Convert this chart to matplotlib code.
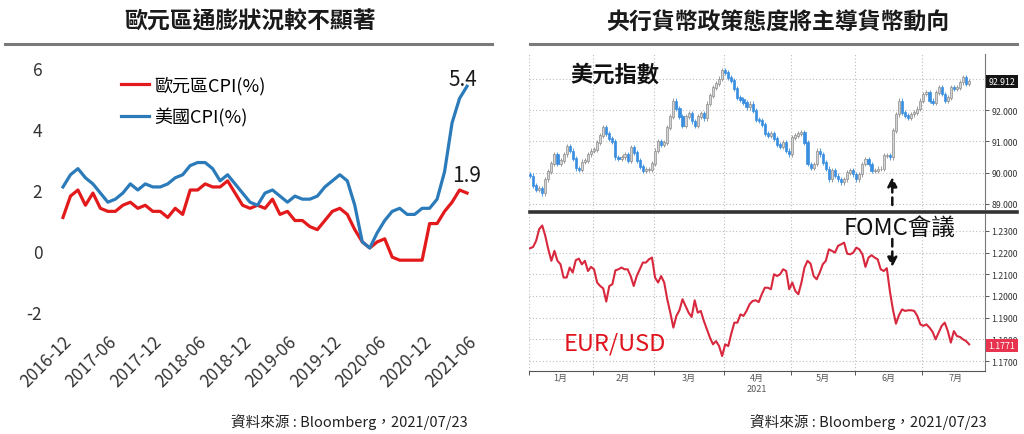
import numpy as np
import pandas as pd
import matplotlib
matplotlib.use("Agg")
import matplotlib.pyplot as plt
from matplotlib.lines import Line2D
from matplotlib import transforms

plt.rcParams['font.family'] = ['Noto Sans CJK TC', 'DejaVu Sans']
plt.rcParams['axes.unicode_minus'] = False

# ---- left panel: CPI YoY (%) , monthly 2016-12 .. 2021-06 ----
cpi_months = pd.period_range('2016-12', '2021-06', freq='M')
ez_cpi = [1.1,
          1.8, 2.0, 1.5, 1.9, 1.4, 1.3, 1.3, 1.5, 1.6, 1.4, 1.5, 1.3,
          1.3, 1.1, 1.4, 1.2, 2.0, 2.0, 2.2, 2.1, 2.1, 2.3, 1.9, 1.5,
          1.4, 1.5, 1.4, 1.7, 1.2, 1.3, 1.0, 1.0, 0.8, 0.7, 1.0, 1.3,
          1.4, 1.2, 0.7, 0.3, 0.1, 0.3, 0.4, -0.2, -0.3, -0.3, -0.3, -0.3,
          0.9, 0.9, 1.3, 1.6, 2.0, 1.9]
us_cpi = [2.1,
          2.5, 2.7, 2.4, 2.2, 1.9, 1.6, 1.7, 1.9, 2.2, 2.0, 2.2, 2.1,
          2.1, 2.2, 2.4, 2.5, 2.8, 2.9, 2.9, 2.7, 2.3, 2.5, 2.2, 1.9,
          1.6, 1.5, 1.9, 2.0, 1.8, 1.6, 1.8, 1.7, 1.7, 1.8, 2.1, 2.3,
          2.5, 2.3, 1.5, 0.3, 0.1, 0.6, 1.0, 1.3, 1.4, 1.2, 1.2, 1.4,
          1.4, 1.7, 2.6, 4.2, 5.0, 5.4]

# ---- right panel: daily (weekdays) 2021-01-01 .. 2021-07-22 ----
month_names = ['1月', '2月', '3月', '4月', '5月', '6月', '7月']

dxy_open0 = 89.94
dxy_jan = [89.9, 89.6, 89.45, 89.5, 89.35, 89.8, 90.05, 90.3, 90.6, 90.3, 90.4,
           90.6, 90.85, 90.7, 90.45, 90.15, 90.1, 90.35, 90.4, 90.6, 90.7]
dxy_feb = [90.75, 90.97, 91.2, 91.45, 91.25, 91.1, 91.0, 90.5, 90.45, 90.5,
           90.6, 90.4, 90.8, 90.65, 90.4, 90.2, 90.07, 90.1, 90.1, 90.3]
dxy_mar = [90.7, 91.0, 90.9, 90.97, 91.45, 91.8, 92.3, 92.05, 91.8, 91.5, 91.8,
           91.9, 91.65, 91.5, 91.8, 91.9, 91.75, 92.2, 92.47, 92.73, 92.85, 93.0, 93.27]
dxy_apr = [93.2, 93.05, 92.95, 92.7, 92.4, 92.35, 92.25, 92.1, 92.2, 92.0, 91.7,
           91.67, 91.55, 91.25, 91.2, 91.25, 91.1, 90.9, 90.85, 90.97, 90.7, 90.6]
dxy_may = [91.13, 91.2, 91.25, 91.3, 90.97, 90.28, 90.17, 90.28, 90.7, 90.6, 90.33,
           90.12, 89.8, 90.07, 89.9, 89.8, 89.7, 89.8, 90.0, 90.07, 89.96]
dxy_jun = [89.8, 89.96, 90.28, 90.44, 90.28, 90.07, 90.07, 90.12, 90.12, 90.55, 90.55,
           90.5, 91.35, 91.88, 92.3, 91.93, 91.83, 91.77, 91.88, 91.93, 92.04, 92.3]
dxy_jul = [92.52, 92.57, 92.3, 92.25, 92.57, 92.73, 92.52, 92.3, 92.4, 92.73, 92.68,
           92.73, 92.9, 93.05, 92.84, 92.91]

eur_jan = [1.2220, 1.2226, 1.2254, 1.2308, 1.2325, 1.2277, 1.2215, 1.2162, 1.2208, 1.2162,
           1.2146, 1.2085, 1.2085, 1.2131, 1.2108, 1.2165, 1.2172, 1.2146, 1.2162, 1.2115, 1.2134]
eur_feb = [1.2123, 1.2062, 1.2046, 1.2035, 1.1974, 1.2046, 1.2054, 1.2118, 1.2123, 1.2131,
           1.2123, 1.2123, 1.2092, 1.2046, 1.2092, 1.2123, 1.2154, 1.2154, 1.2169, 1.2177]
eur_mar = [1.2085, 1.2062, 1.2092, 1.2062, 1.1985, 1.1923, 1.1854, 1.1908, 1.1934, 1.1985,
           1.1954, 1.1923, 1.1903, 1.1980, 1.1923, 1.1931, 1.1885, 1.1846, 1.1808, 1.1777,
           1.1792, 1.1769, 1.1723]
eur_apr = [1.1777, 1.1769, 1.1826, 1.1877, 1.1877, 1.1915, 1.1908, 1.1931, 1.1962, 1.1977,
           1.1980, 1.1972, 1.2008, 1.2038, 1.2038, 1.2031, 1.2100, 1.2092, 1.2100, 1.2123,
           1.2115, 1.2031]
eur_may = [1.2062, 1.2023, 1.2008, 1.2062, 1.2131, 1.2162, 1.2149, 1.2092, 1.2077, 1.2108,
           1.2146, 1.2162, 1.2215, 1.2208, 1.2200, 1.2231, 1.2238, 1.2246, 1.2195, 1.2192, 1.2200]
eur_jun = [1.2223, 1.2215, 1.2192, 1.2134, 1.2177, 1.2188, 1.2177, 1.2169, 1.2123, 1.2115,
           1.2128, 1.2023, 1.1938, 1.1872, 1.1912, 1.1938, 1.1931, 1.1934, 1.1934, 1.1931,
           1.1908, 1.1869]
eur_jul = [1.1862, 1.1869, 1.1854, 1.1835, 1.1800, 1.1831, 1.1862, 1.1877, 1.1838, 1.1785,
           1.1838, 1.1815, 1.1811, 1.1800, 1.1792, 1.1777]

dxy_last, eur_last = '92.912', '1.1771'
fomc_day = '2021-06-16'

W, H = 1024, 435
def fx(px):
    return px / W
def fy(py):
    return 1 - py / H

fig = plt.figure(figsize=(W / 100, H / 100), dpi=100)
fig.patch.set_facecolor('white')

# titles + rules
fig.text(fx(250), fy(22), '歐元區通膨狀況較不顯著', ha='center', va='center',
         fontsize=16.5, fontweight='bold', color='#1a1a1a')
fig.text(fx(778), fy(22), '央行貨幣政策態度將主導貨幣動向', ha='center', va='center',
         fontsize=16.5, fontweight='bold', color='#1a1a1a')
fig.add_artist(Line2D([fx(5), fx(492)], [fy(45)] * 2, color='#7a7a7a', lw=2.2))
fig.add_artist(Line2D([fx(530), fx(1017)], [fy(45)] * 2, color='#7a7a7a', lw=2.2))

# ================= left chart =================
ax1 = fig.add_axes([fx(55.5), fy(322.2), 419 / W, 262.4 / H])
xm = np.arange(len(cpi_months))
ax1.plot(xm, ez_cpi, color='#e31a1c', lw=2.3, label='歐元區CPI(%)')
ax1.plot(xm, us_cpi, color='#2b7bba', lw=2.3, label='美國CPI(%)')
ax1.set_xlim(-1, len(cpi_months))
ax1.set_ylim(-2.3, 6.3)
ax1.set_yticks([-2, 0, 2, 4, 6])
ax1.set_xticks(xm[::6])
ax1.set_xticklabels([p.strftime('%Y-%m') for p in cpi_months[::6]],
                    rotation=45, ha='right', rotation_mode='anchor')
ax1.tick_params(axis='y', length=0, pad=9.5, labelsize=12.5, labelcolor='#333333')
ax1.tick_params(axis='x', length=0, pad=8, labelsize=12.5, labelcolor='#333333')
for s in ax1.spines.values():
    s.set_visible(False)
ax1.legend(loc='upper left', bbox_to_anchor=(fx(121), fy(77)), bbox_transform=fig.transFigure,
           frameon=False, fontsize=13, handlelength=1.55, handletextpad=0.3,
           labelspacing=0.7, borderpad=0, borderaxespad=0)
ax1.annotate(f'{us_cpi[-1]:.1f}', (xm[-1], us_cpi[-1]), xytext=(-3, -3),
             textcoords='offset points', ha='center', va='bottom', fontsize=15, color='#1a1a1a')
ax1.annotate(f'{ez_cpi[-1]:.1f}', (xm[-1], ez_cpi[-1]), xytext=(0, 5),
             textcoords='offset points', ha='center', va='bottom', fontsize=15, color='#1a1a1a')
fig.text(fx(468), fy(422), '資料來源 : Bloomberg，2021/07/23', ha='right', va='center',
         fontsize=10.5, color='#222222')

# ================= right chart =================
dxy_months = [dxy_jan, dxy_feb, dxy_mar, dxy_apr, dxy_may, dxy_jun, dxy_jul]
eur_months = [eur_jan, eur_feb, eur_mar, eur_apr, eur_may, eur_jun, eur_jul]
dxy = np.concatenate(dxy_months)
eur = np.concatenate(eur_months)
days = pd.bdate_range('2021-01-01', periods=len(dxy))
xd = np.arange(len(days))

bounds = [np.searchsorted(days, pd.Timestamp(2021, m, 1)) - 0.5 for m in range(1, 8)]
centers = []
for m in range(1, 8):
    full = pd.bdate_range(pd.Timestamp(2021, m, 1), pd.Timestamp(2021, m, 1) + pd.offsets.MonthEnd(0))
    centers.append(bounds[m - 1] + len(full) / 2)
fomc_x = np.searchsorted(days, pd.Timestamp(fomc_day)) + 0.8

x_left, x_right = -0.5, 149.2
ax_w = (985 - 528.5) / W
ax2 = fig.add_axes([fx(528.5), fy(210), ax_w, 155 / H])
ax3 = fig.add_axes([fx(528.5), fy(372), ax_w, 157 / H])

grid_kw = dict(color='#bdbdbd', lw=0.8, linestyle=(0, (1, 2)))

# candles
opens = np.r_[dxy_open0, dxy[:-1]]
up = dxy >= opens
lo = np.minimum(opens, dxy)
hi = np.maximum(opens, dxy)
ax2.vlines(xd[up], lo[up] - 0.08, hi[up] + 0.08, color='#8c8c8c', lw=0.6, zorder=2)
ax2.vlines(xd[~up], lo[~up] - 0.08, hi[~up] + 0.08, color='#3a8ee0', lw=0.6, zorder=2)
ax2.bar(xd[up], (hi - lo)[up] + 0.02, bottom=lo[up] - 0.01, width=0.7,
        color='#d4d4d4', edgecolor='#8c8c8c', linewidth=0.5, zorder=3)
ax2.bar(xd[~up], (hi - lo)[~up] + 0.02, bottom=lo[~up] - 0.01, width=0.7,
        color='#3a8ee0', edgecolor='#3a8ee0', linewidth=0.5, zorder=3)
ax2.set_xlim(x_left, x_right)
ax2.set_ylim(88.84, 93.8)
ax2.set_yticks([89, 90, 91, 92, 93])
ax2.set_yticklabels(['89.000', '90.000', '91.000', '92.000', ''])
ax2.set_xticks(bounds)
ax2.tick_params(axis='x', length=0, labelbottom=False)
ax2.grid(True, **grid_kw)
ax2.set_axisbelow(True)

# EUR/USD
ax3.plot(xd, eur, color='#d8283e', lw=1.5, zorder=3)
ax3.set_xlim(x_left, x_right)
ax3.set_ylim(1.1654, 1.2378)
eur_ticks = [1.17, 1.18, 1.19, 1.20, 1.21, 1.22, 1.23]
ax3.set_yticks(eur_ticks)
ax3.set_yticklabels([f'{t:.4f}' for t in eur_ticks])
ax3.set_xticks(bounds)
ax3.set_xticklabels([])
ax3.set_xticks(centers, minor=True)
ax3.set_xticklabels(month_names, minor=True)
ax3.tick_params(axis='x', which='major', length=3, width=0.7, color='#555555', direction='out')
ax3.tick_params(axis='x', which='minor', length=0, pad=1.5, labelsize=6.5, labelcolor='#555555')
ax3.grid(True, which='major', **grid_kw)
ax3.set_axisbelow(True)
ax3.text(centers[3], -0.11, '2021', transform=transforms.blended_transform_factory(ax3.transData, ax3.transAxes),
         ha='center', va='center', fontsize=6.5, color='#555555')

for ax in (ax2, ax3):
    ax.yaxis.tick_right()
    ax.tick_params(axis='y', length=3, width=0.7, pad=1.5, labelsize=6.3,
                   color='#555555', labelcolor='#333333', direction='out')
    for side in ('top', 'left', 'bottom'):
        ax.spines[side].set_visible(False)
    ax.spines['right'].set_color('#777777')
    ax.spines['right'].set_linewidth(0.8)
ax3.spines['bottom'].set_visible(True)
ax3.spines['bottom'].set_color('#555555')
ax3.spines['bottom'].set_linewidth(0.8)

# last price boxes
tr2 = transforms.blended_transform_factory(ax2.transAxes, ax2.transData)
ax2.text(1.008, float(dxy_last), dxy_last, transform=tr2, ha='left', va='center', fontsize=6.3,
         color='white', bbox=dict(boxstyle='square,pad=0.25', fc='#151515', ec='none'), zorder=5)
tr3 = transforms.blended_transform_factory(ax3.transAxes, ax3.transData)
ax3.text(1.008, float(eur_last), eur_last, transform=tr3, ha='left', va='center', fontsize=6.3,
         color='white', bbox=dict(boxstyle='square,pad=0.25', fc='#e8344e', ec='none'), zorder=5)

# separator
fig.add_artist(Line2D([fx(530), fx(1017)], [fy(212.5)] * 2, color='#333333', lw=2.6))

# labels
fig.text(fx(570), fy(75), '美元指數', ha='left', va='center', fontsize=16, fontweight='bold',
         color='#111111')
fig.text(fx(615), fy(344), 'EUR/USD', ha='center', va='center', fontsize=17, color='#e0141e')
fig.text(fx(900), fy(228), 'FOMC會議', ha='center', va='center', fontsize=17, color='#111111')

# FOMC arrows (dashed)
arrow_kw = dict(arrowstyle='-|>,head_width=0.28,head_length=0.55', lw=1.8, ls=(0, (3, 2)),
                color='#111111', shrinkA=0, shrinkB=0)
ax2.annotate('', xy=(fomc_x, H - 178), xycoords=('data', 'figure pixels'),
             xytext=(fomc_x, H - 206), textcoords=('data', 'figure pixels'),
             arrowprops=arrow_kw, annotation_clip=False)
ax3.annotate('', xy=(fomc_x, H - 268), xycoords=('data', 'figure pixels'),
             xytext=(fomc_x, H - 240), textcoords=('data', 'figure pixels'),
             arrowprops=arrow_kw, annotation_clip=False)

fig.text(fx(987), fy(422), '資料來源 : Bloomberg，2021/07/23', ha='right', va='center',
         fontsize=10.5, color='#222222')

fig.savefig('out.png', dpi=100)
